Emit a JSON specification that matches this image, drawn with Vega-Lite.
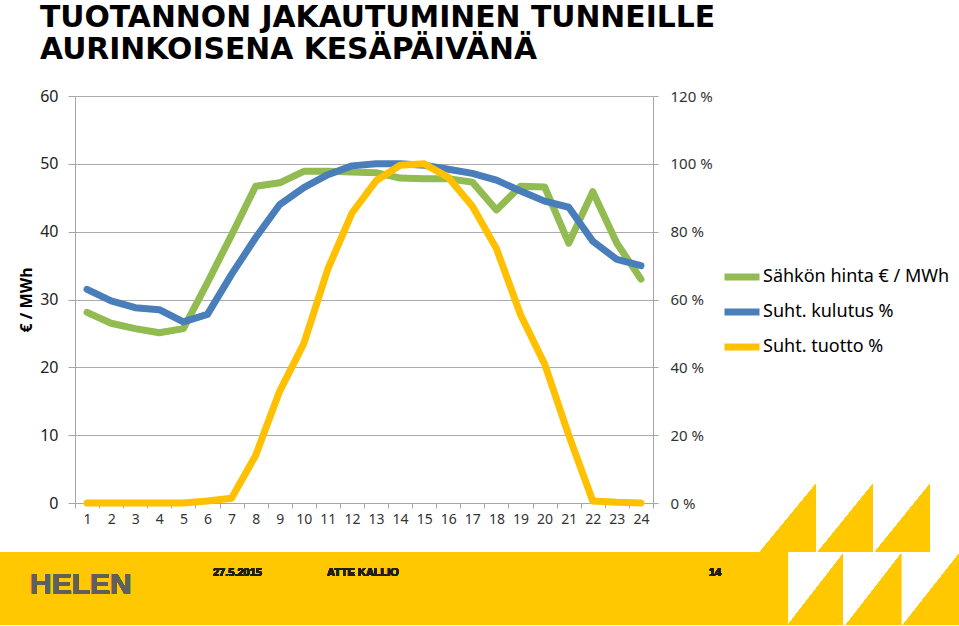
{
  "$schema": "https://vega.github.io/schema/vega-lite/v6.json",
  "width": 578,
  "height": 407,
  "padding": {"top": 3, "left": 0, "right": 0, "bottom": 0},
  "background": "white",
  "title": {
    "text": ["TUOTANNON JAKAUTUMINEN TUNNEILLE", "AURINKOISENA KESÄPÄIVÄNÄ"],
    "anchor": "start",
    "frame": "bounds",
    "font": "DejaVu Sans",
    "fontSize": 29.8,
    "fontWeight": "bold",
    "color": "#000000",
    "lineHeight": 32,
    "dx": 40,
    "offset": 23
  },
  "config": {
    "view": {"stroke": null},
    "axis": {"domainColor": "#A6A6A6", "tickColor": "#A6A6A6", "labelFont": "Noto Sans", "titleFont": "Noto Sans"}
  },
  "data": {
    "values": [
      {"hour": 1, "price": 28.1, "kulutus": 63.0, "tuotto": 0.0},
      {"hour": 2, "price": 26.5, "kulutus": 59.6, "tuotto": 0.0},
      {"hour": 3, "price": 25.7, "kulutus": 57.6, "tuotto": 0.0},
      {"hour": 4, "price": 25.1, "kulutus": 57.0, "tuotto": 0.0},
      {"hour": 5, "price": 25.7, "kulutus": 53.4, "tuotto": 0.0},
      {"hour": 6, "price": 32.5, "kulutus": 55.6, "tuotto": 0.6},
      {"hour": 7, "price": 39.5, "kulutus": 67.4, "tuotto": 1.4},
      {"hour": 8, "price": 46.7, "kulutus": 78.2, "tuotto": 14.0},
      {"hour": 9, "price": 47.2, "kulutus": 88.0, "tuotto": 33.0},
      {"hour": 10, "price": 48.9, "kulutus": 93.0, "tuotto": 47.0},
      {"hour": 11, "price": 48.9, "kulutus": 96.8, "tuotto": 69.0},
      {"hour": 12, "price": 48.8, "kulutus": 99.4, "tuotto": 85.5},
      {"hour": 13, "price": 48.7, "kulutus": 100.0, "tuotto": 95.0},
      {"hour": 14, "price": 47.9, "kulutus": 100.0, "tuotto": 99.6},
      {"hour": 15, "price": 47.8, "kulutus": 99.6, "tuotto": 100.0},
      {"hour": 16, "price": 47.8, "kulutus": 98.4, "tuotto": 96.0},
      {"hour": 17, "price": 47.3, "kulutus": 97.2, "tuotto": 87.5},
      {"hour": 18, "price": 43.2, "kulutus": 95.2, "tuotto": 75.0},
      {"hour": 19, "price": 46.7, "kulutus": 92.0, "tuotto": 55.5},
      {"hour": 20, "price": 46.6, "kulutus": 89.0, "tuotto": 41.0},
      {"hour": 21, "price": 38.3, "kulutus": 87.2, "tuotto": 20.0},
      {"hour": 22, "price": 45.9, "kulutus": 77.2, "tuotto": 0.6},
      {"hour": 23, "price": 38.3, "kulutus": 71.8, "tuotto": 0.2},
      {"hour": 24, "price": 33.0, "kulutus": 70.0, "tuotto": 0.0}
    ]
  },
  "layer": [
    {
      "mark": {"type": "rect", "fill": "#FFC800", "clip": false},
      "encoding": {
        "x": {"datum": -2.614, "type": "quantitative", "scale": {"domain": [0.5, 24.5], "nice": false, "zero": false}, "axis": null},
        "x2": {"datum": 30.106},
        "y": {"datum": -7.224, "type": "quantitative", "scale": {"domain": [0, 60], "nice": false, "zero": false}, "axis": null},
        "y2": {"datum": -17.985}
      }
    },
    {
      "mark": {"type": "point", "shape": "M-1,0.4L-0.341,-0.4L-0.341,0.4ZM-0.318,0.4L0.329,-0.4L0.329,0.4ZM0.353,0.4L1,-0.4L1,0.4Z", "size": 28900, "filled": true, "fill": "#FFC800", "opacity": 1, "strokeWidth": 0, "clip": false},
      "encoding": {
        "x": {"datum": 32.472, "type": "quantitative", "scale": {"domain": [0.5, 24.5], "nice": false, "zero": false}, "axis": null},
        "y": {"datum": -2.211, "type": "quantitative", "scale": {"domain": [0, 60], "nice": false, "zero": false}, "axis": null}
      }
    },
    {
      "mark": {"type": "point", "shape": "M-1,0.415L-0.357,-0.415L-0.357,0.415ZM-0.322,0.415L0.322,-0.415L0.322,0.415ZM0.345,0.415L1,-0.415L1,0.415Z", "size": 29241, "filled": true, "fill": "#FFC800", "opacity": 1, "strokeWidth": 0, "clip": false},
      "encoding": {
        "x": {"datum": 33.656, "type": "quantitative", "scale": {"domain": [0.5, 24.5], "nice": false, "zero": false}, "axis": null},
        "y": {"datum": -12.752, "type": "quantitative", "scale": {"domain": [0, 60], "nice": false, "zero": false}, "axis": null}
      }
    },
    {
      "mark": {"type": "text", "font": "Liberation Sans", "fontSize": 30, "fontWeight": "bold", "fill": "#5F5F5F", "align": "left", "baseline": "alphabetic", "clip": false},
      "encoding": {
        "text": {"value": "HELEN"},
        "x": {"datum": -1.369, "type": "quantitative", "scale": {"domain": [0.5, 24.5], "nice": false, "zero": false}, "axis": null},
        "y": {"datum": -13.4, "type": "quantitative", "scale": {"domain": [0, 60], "nice": false, "zero": false}, "axis": null}
      }
    },
    {
      "mark": {"type": "text", "font": "Liberation Sans", "fontSize": 11, "fontWeight": "bold", "fill": "#1E1E1E", "align": "left", "baseline": "alphabetic", "clip": false},
      "encoding": {
        "text": {"value": "27.5.2015"},
        "x": {"datum": 6.23, "type": "quantitative", "scale": {"domain": [0.5, 24.5], "nice": false, "zero": false}, "axis": null},
        "y": {"datum": -10.835, "type": "quantitative", "scale": {"domain": [0, 60], "nice": false, "zero": false}, "axis": null}
      }
    },
    {
      "mark": {"type": "text", "font": "Liberation Sans", "fontSize": 11, "fontWeight": "bold", "fill": "#1E1E1E", "align": "left", "baseline": "alphabetic", "clip": false},
      "encoding": {
        "text": {"value": "ATTE KALLIO"},
        "x": {"datum": 10.964, "type": "quantitative", "scale": {"domain": [0.5, 24.5], "nice": false, "zero": false}, "axis": null},
        "y": {"datum": -10.835, "type": "quantitative", "scale": {"domain": [0, 60], "nice": false, "zero": false}, "axis": null}
      }
    },
    {
      "mark": {"type": "text", "font": "Liberation Sans", "fontSize": 11, "fontWeight": "bold", "fill": "#1E1E1E", "align": "left", "baseline": "alphabetic", "clip": false},
      "encoding": {
        "text": {"value": "14"},
        "x": {"datum": 26.825, "type": "quantitative", "scale": {"domain": [0.5, 24.5], "nice": false, "zero": false}, "axis": null},
        "y": {"datum": -10.835, "type": "quantitative", "scale": {"domain": [0, 60], "nice": false, "zero": false}, "axis": null}
      }
    },
    {
      "mark": {"type": "line", "strokeWidth": 7, "strokeCap": "round", "strokeJoin": "round"},
      "encoding": {
        "x": {"field": "hour", "type": "ordinal", "bandPosition": 0.5, "scale": {"type": "band", "paddingInner": 0, "paddingOuter": 0},
          "axis": {"title": null, "labelAngle": 0, "tickBand": "extent", "tickSize": 5, "labelFontSize": 14, "labelColor": "#333333", "labelPadding": 4, "grid": false}},
        "y": {"field": "price", "type": "quantitative", "scale": {"domain": [0, 60], "nice": false},
          "axis": {"title": "€ / MWh", "titleFontWeight": "bold", "titleFontSize": 16, "titleColor": "#000000", "titlePadding": 5,
            "values": [0, 10, 20, 30, 40, 50, 60], "labelFontSize": 16, "labelColor": "#222222", "tickSize": 7, "labelPadding": 10,
            "grid": true, "gridColor": "#ABABAB"}},
        "color": {"datum": "Sähkön hinta € / MWh", "type": "nominal",
          "scale": {"domain": ["Sähkön hinta € / MWh", "Suht. kulutus %", "Suht. tuotto %"], "range": ["#92BB51", "#4A7EBB", "#FFC000"]},
          "legend": {"title": null, "orient": "none", "legendX": 646, "legendY": 160, "padding": 0, "symbolType": "stroke", "symbolSize": 1225,
            "symbolStrokeWidth": 7, "labelFont": "Noto Sans", "labelFontSize": 18, "labelColor": "#000000", "labelOffset": 0, "labelLimit": 0, "rowPadding": -2.5}}
      }
    },
    {
      "mark": {"type": "line", "strokeWidth": 7, "strokeCap": "round", "strokeJoin": "round"},
      "encoding": {
        "x": {"field": "hour", "type": "ordinal", "bandPosition": 0.5, "scale": {"type": "band", "paddingInner": 0, "paddingOuter": 0}, "axis": null},
        "y": {"field": "kulutus", "type": "quantitative", "scale": {"domain": [0, 120], "nice": false},
          "axis": {"orient": "right", "title": null, "values": [0, 20, 40, 60, 80, 100, 120], "labelExpr": "datum.value + ' %'",
            "labelFontSize": 15, "labelColor": "#333333", "tickSize": 5, "labelPadding": 12, "grid": false}},
        "color": {"datum": "Suht. kulutus %", "type": "nominal"}
      }
    },
    {
      "mark": {"type": "line", "strokeWidth": 7, "strokeCap": "round", "strokeJoin": "round"},
      "encoding": {
        "x": {"field": "hour", "type": "ordinal", "bandPosition": 0.5, "scale": {"type": "band", "paddingInner": 0, "paddingOuter": 0}, "axis": null},
        "y": {"field": "tuotto", "type": "quantitative", "scale": {"domain": [0, 120], "nice": false}, "axis": null},
        "color": {"datum": "Suht. tuotto %", "type": "nominal"}
      }
    }
  ],
  "resolve": {"scale": {"x": "independent", "y": "independent"}}
}
